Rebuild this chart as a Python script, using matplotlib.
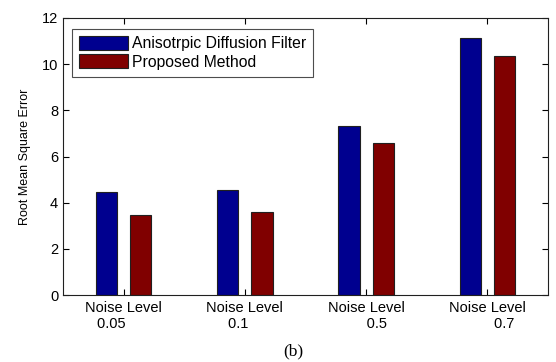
import numpy as np
import matplotlib.pyplot as plt

# Data
groups = [1, 2, 3, 4]
tick_labels = ['Noise Level\n0.05      ', 'Noise Level\n0.1   ',
               'Noise Level\n     0.5', 'Noise Level\n        0.7']
anisotropic = [4.45, 4.55, 7.3, 11.15]
proposed = [3.45, 3.58, 6.6, 10.35]
series_names = ['Anisotrpic Diffusion Filter', 'Proposed Method']

plt.rcParams['font.family'] = ['Liberation Sans', 'DejaVu Sans']

fig = plt.figure(figsize=(5.56, 3.62), dpi=100)
ax = fig.add_axes([0.1133, 0.185, 0.8723, 0.7653])

x = np.array(groups)
w = 0.175
ax.bar(x - 0.142, anisotropic, w, color='#00008F', edgecolor='#202020',
       linewidth=0.8, label=series_names[0])
ax.bar(x + 0.142, proposed, w, color='#800000', edgecolor='#202020',
       linewidth=0.8, label=series_names[1])

ax.set_xlim(0.5, 4.5)
ax.set_ylim(0, 12)
ax.set_yticks([0, 2, 4, 6, 8, 10, 12])
ax.set_xticks(x)
ax.set_xticklabels(tick_labels, fontsize=10.5, linespacing=1.25)
ax.tick_params(axis='y', labelsize=10.5)
ax.tick_params(direction='in', length=4, width=0.8, top=True, right=True,
               colors='black')
ax.tick_params(axis='x', pad=4)
for s in ax.spines.values():
    s.set_linewidth(0.8)
    s.set_color('#202020')

ax.set_ylabel('Root Mean Square Error', fontsize=9, labelpad=8)

leg = ax.legend(loc='upper left', bbox_to_anchor=(0.0186, 0.962),
                fontsize=11.3, frameon=True, fancybox=False,
                edgecolor='#202020', handlelength=3.1, handleheight=1.0,
                handletextpad=0.25, borderpad=0.45, labelspacing=0.2,
                borderaxespad=0)
leg.get_frame().set_linewidth(0.8)

fig.text(0.527, 0.028, '(b)', fontsize=12.5, family='Liberation Serif',
         ha='center', va='center')

fig.savefig('out.png', dpi=100)
